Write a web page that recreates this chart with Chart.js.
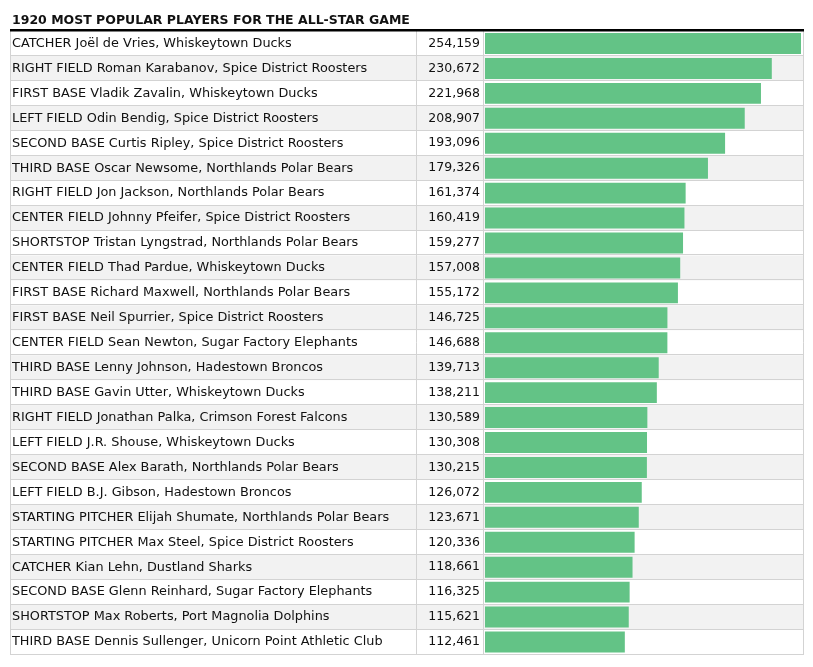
<!DOCTYPE html>
<html>
<head>
<meta charset="utf-8">
<script src="https://cdn.jsdelivr.net/npm/chart.js@4"></script>
<style>
html,body{margin:0;padding:0;background:#fff;}
#wrap{width:813px;height:667px;position:relative;}
</style>
</head>
<body>
<div id="wrap"><canvas id="c"></canvas></div>
<script>
const titleText = "1920 MOST POPULAR PLAYERS FOR THE ALL-STAR GAME";
const players = [
  "CATCHER Joël de Vries, Whiskeytown Ducks",
  "RIGHT FIELD Roman Karabanov, Spice District Roosters",
  "FIRST BASE Vladik Zavalin, Whiskeytown Ducks",
  "LEFT FIELD Odin Bendig, Spice District Roosters",
  "SECOND BASE Curtis Ripley, Spice District Roosters",
  "THIRD BASE Oscar Newsome, Northlands Polar Bears",
  "RIGHT FIELD Jon Jackson, Northlands Polar Bears",
  "CENTER FIELD Johnny Pfeifer, Spice District Roosters",
  "SHORTSTOP Tristan Lyngstrad, Northlands Polar Bears",
  "CENTER FIELD Thad Pardue, Whiskeytown Ducks",
  "FIRST BASE Richard Maxwell, Northlands Polar Bears",
  "FIRST BASE Neil Spurrier, Spice District Roosters",
  "CENTER FIELD Sean Newton, Sugar Factory Elephants",
  "THIRD BASE Lenny Johnson, Hadestown Broncos",
  "THIRD BASE Gavin Utter, Whiskeytown Ducks",
  "RIGHT FIELD Jonathan Palka, Crimson Forest Falcons",
  "LEFT FIELD J.R. Shouse, Whiskeytown Ducks",
  "SECOND BASE Alex Barath, Northlands Polar Bears",
  "LEFT FIELD B.J. Gibson, Hadestown Broncos",
  "STARTING PITCHER Elijah Shumate, Northlands Polar Bears",
  "STARTING PITCHER Max Steel, Spice District Roosters",
  "CATCHER Kian Lehn, Dustland Sharks",
  "SECOND BASE Glenn Reinhard, Sugar Factory Elephants",
  "SHORTSTOP Max Roberts, Port Magnolia Dolphins",
  "THIRD BASE Dennis Sullenger, Unicorn Point Athletic Club"
];
const votes = [254159,230672,221968,208907,193096,179326,161374,160419,159277,157008,155172,146725,146688,139713,138211,130589,130308,130215,126072,123671,120336,118661,116325,115621,112461];
const voteLabels = votes.map(v => v.toLocaleString('en-US'));

const FONT = "'DejaVu Sans', Verdana, sans-serif";

const tablePlugin = {
  id: 'tableDecor',
  beforeDraw(chart) {
    const ctx = chart.ctx;
    const y = chart.scales.y;
    const yv = chart.scales.yv;
    const area = chart.chartArea;
    const n = players.length;
    const rowH = (area.bottom - area.top) / n;
    const left = y.left - 2;
    const right = area.right + 2;
    ctx.save();
    for (let i = 0; i < n; i++) {
      const c = y.getPixelForValue(i);
      const top = c - rowH / 2;
      if (i % 2 === 1) {
        ctx.fillStyle = '#f2f2f2';
        ctx.fillRect(left, top, right - left, rowH);
      }
    }
    ctx.strokeStyle = '#d3d3d3';
    ctx.lineWidth = 1;
    ctx.beginPath();
    for (let i = 1; i <= n; i++) {
      const b = Math.round(y.getPixelForValue(i - 1) + rowH / 2) - 0.5;
      ctx.moveTo(left, b); ctx.lineTo(right + 1, b);
    }
    const xs = [left + 0.5, Math.round(yv.left) + 0.5, Math.round(area.left) - 1.5, right + 0.5];
    xs.forEach(x => { ctx.moveTo(x, area.top); ctx.lineTo(x, area.bottom); });
    ctx.stroke();
    ctx.fillStyle = '#000';
    ctx.fillRect(left, area.top - 2, right - left + 1, 2.5);
    ctx.restore();
  }
};

new Chart(document.getElementById('c'), {
  type: 'bar',
  data: {
    labels: players,
    datasets: [{
      data: votes,
      backgroundColor: '#63c386',
      borderWidth: 0,
      barPercentage: 1,
      categoryPercentage: 0.84,
      yAxisID: 'y'
    }]
  },
  options: {
    indexAxis: 'y',
    responsive: true,
    maintainAspectRatio: false,
    animation: false,
    events: [],
    layout: { padding: { left: 12, right: 12, top: 0, bottom: 11 } },
    plugins: {
      legend: { display: false },
      tooltip: { enabled: false },
      title: {
        display: true,
        text: titleText,
        align: 'start',
        color: '#111',
        font: { family: FONT, size: 12.5, weight: 'bold' },
        padding: { top: 13, bottom: 3 }
      }
    },
    scales: {
      x: {
        display: false,
        min: 0,
        max: Math.max(...votes)
      },
      y: {
        type: 'category',
        position: 'left',
        weight: 2,
        offset: true,
        grid: { display: false, drawTicks: false },
        border: { display: false },
        ticks: {
          crossAlign: 'far',
          padding: 0,
          color: '#111',
          autoSkip: false,
          font: { family: FONT, size: 12.85 }
        },
        afterFit(s) { s.width = 404; }
      },
      yv: {
        type: 'category',
        position: 'left',
        weight: 1,
        offset: true,
        labels: voteLabels,
        grid: { display: false, drawTicks: false },
        border: { display: false },
        ticks: {
          crossAlign: 'near',
          padding: 5,
          color: '#111',
          autoSkip: false,
          font: { family: FONT, size: 12.5 }
        },
        afterFit(s) { s.width = 69; }
      }
    }
  },
  plugins: [tablePlugin]
});
</script>
</body>
</html>
